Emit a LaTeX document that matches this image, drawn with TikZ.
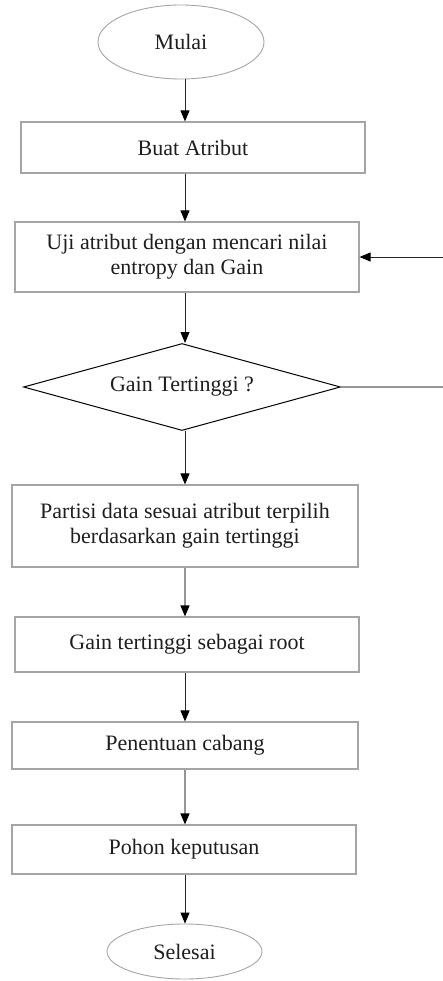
\documentclass[tikz,border=0pt]{standalone}
\usepackage{fontspec}
\setmainfont{Liberation Serif}
\usetikzlibrary{shapes.geometric,arrows.meta}
\definecolor{boxgray}{RGB}{165,165,165}
\definecolor{linegray}{RGB}{150,150,150}
\definecolor{txt}{RGB}{30,30,30}
\tikzset{
  every node/.style={font=\fontsize{22pt}{25pt}\selectfont, text=txt, inner sep=0pt},
  procbox/.style={draw=boxgray, line width=1.1pt, rectangle, align=center},
  termin/.style={draw=boxgray, line width=0.9pt, ellipse},
  decis/.style={draw=black, line width=1pt, diamond, shape aspect=3.6},
  arr/.style={draw=black!85, line width=0.9pt, -{Triangle[length=11pt,width=9pt,color=black]}},
  grayarr/.style={draw=linegray, line width=1.2pt, -{Triangle[length=11pt,width=9pt,color=black]}},
  grayline/.style={draw=linegray, line width=1.2pt}
}
\begin{document}
\begin{tikzpicture}[x=1pt,y=-1pt]
\useasboundingbox (0,0) rectangle (443,981);
\coordinate (axis) at (185,0);
\node[termin, minimum width=166pt, minimum height=74pt] (mulai) at (181,42) {Mulai};
\node[procbox, minimum width=344pt, minimum height=51pt] (buat) at (193,147.5) {Buat Atribut};
\node[procbox, minimum width=344pt, minimum height=70pt] (uji) at (187,257) {Uji atribut dengan mencari nilai\\entropy dan Gain};
\node[decis, minimum width=317pt, minimum height=87pt] (gain) at (182,387) {Gain Tertinggi ?};
\node[procbox, minimum width=346pt, minimum height=82pt] (partisi) at (185,526) {Partisi data sesuai atribut terpilih\\berdasarkan gain tertinggi};
\node[procbox, minimum width=344pt, minimum height=55pt] (root) at (187,644.5) {Gain tertinggi sebagai root};
\node[procbox, minimum width=346pt, minimum height=47pt] (cabang) at (185,745.5) {Penentuan cabang};
\node[procbox, minimum width=344pt, minimum height=49pt] (pohon) at (184,849.5) {Pohon keputusan};
\node[termin, minimum width=155pt, minimum height=55pt] (selesai) at (184.5,951.5) {Selesai};
\coordinate (rin) at (443,257);
\coordinate (rout) at (443,387);
\draw[arr] (mulai.south -| axis) -- (buat.north -| axis);
\draw[arr] (buat.south -| axis) -- (uji.north -| axis);
\draw[arr] (uji.south -| axis) -- (gain.north -| axis);
\draw[arr] (gain.south -| axis) -- (partisi.north -| axis);
\draw[grayarr] (partisi.south -| axis) -- (root.north -| axis);
\draw[arr] (root.south -| axis) -- (cabang.north -| axis);
\draw[grayarr] (cabang.south -| axis) -- (pohon.north -| axis);
\draw[arr] (pohon.south -| axis) -- (selesai.north -| axis);
\draw[arr] (rin) -- (uji.east);
\draw[grayline] (gain.east) -- (rout);
\end{tikzpicture}
\end{document}
